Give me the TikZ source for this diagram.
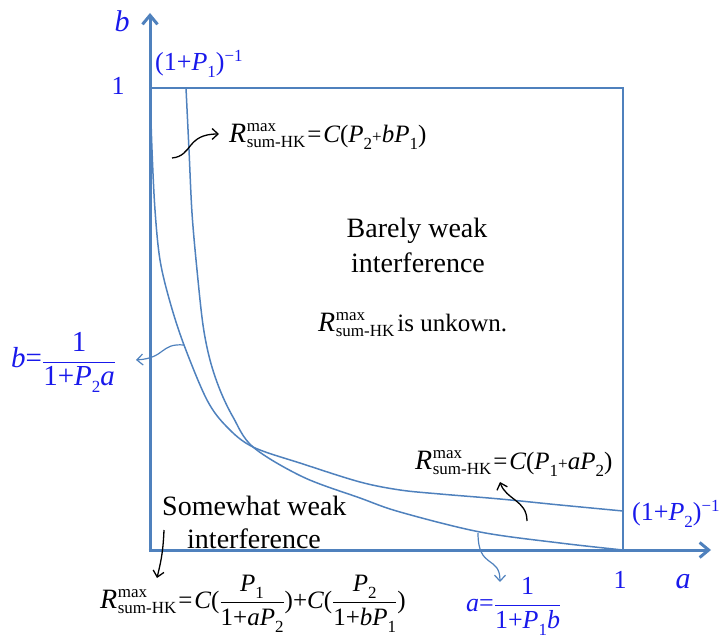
\documentclass[tikz,border=0pt]{standalone}
\usepackage{fontspec}
\setmainfont{Liberation Serif}
\usetikzlibrary{arrows.meta}
\definecolor{axisblue}{RGB}{79,129,189}
\definecolor{labblue}{RGB}{25,25,235}
\newcommand{\fsR}{\fontsize{28}{32}\selectfont}
\newcommand{\fsN}{\fontsize{25}{30}\selectfont}
\newcommand{\fsS}{\fontsize{17}{19}\selectfont}
\newcommand{\fsT}{\fontsize{28}{34}\selectfont}
\newcommand{\itl}[1]{{\itshape #1}}
\newcommand{\sbb}[1]{\raisebox{-7pt}{\fsS\upshape #1}}
\newcommand{\spp}[1]{\raisebox{9pt}{\fsS\upshape #1}}
\newcommand{\Rmx}{{\fsR\itshape R}\kern0.5pt\rlap{\raisebox{11pt}{\fsS max}}\raisebox{-5pt}{\fsS sum-HK}}
\newcommand{\eqs}{\kern2pt=\kern2pt}
\newcommand{\frc}[2]{$\displaystyle\frac{\hbox{#1}}{\hbox{#2}}$}
\tikzset{
  axisline/.style={draw=axisblue, line width=3pt, -{Straight Barb[length=9pt,width=15pt]}},
  boxline/.style={draw=axisblue, line width=1.2pt},
  curveline/.style={draw=axisblue, line width=1.5pt},
  bluearrow/.style={draw=axisblue, line width=1.2pt, -{Straight Barb[length=6pt,width=11pt]}},
  blackarrow/.style={draw=black, line width=1.3pt, -{Straight Barb[length=6pt,width=11pt]}},
  lab/.style={text=labblue, font=\fsN, inner sep=0pt},
  txt/.style={text=black, font=\fsT, inner sep=0pt},
  frm/.style={text=black, font=\fsN, inner sep=0pt}
}
\begin{document}
\begin{tikzpicture}[x=1pt,y=-1pt]
\useasboundingbox (0,0) rectangle (724,639);
\coordinate (O) at (150,550);
\coordinate (Ytip) at (150,13);
\coordinate (Xtip) at (711,550);
\coordinate (TL) at (150,88);
\coordinate (TR) at (623,88);
\coordinate (BR) at (623,550);
% box
\draw[boxline] (TL) -- (TR) -- (BR);
% curves
\draw[curveline] plot[smooth, tension=0.55] coordinates {(150,88) (152,150) (155,210) (160,260) (170,302) (184,345) (207,400) (227,427) (253,447) (303,464) (360,482) (400,490) (440,494) (500,499) (560,505) (623,511)};
\draw[curveline] plot[smooth, tension=0.55] coordinates {(186,88) (189,150) (192,213) (197,270) (203,325) (210,360) (220,390) (233,417) (253,447) (303,477) (360,498) (400,512) (480,532) (560,543) (623,550)};
% axes
\draw[axisline] (O) -- (Ytip);
\draw[axisline] ([xshift=-1.5pt]O) -- (Xtip);
% axis labels
\node[lab, font=\fontsize{30}{34}\selectfont\itshape, anchor=base] (bl) at (122,32) {b};
\node[lab, font=\fontsize{30}{34}\selectfont\itshape, anchor=base] (al) at (683,588) {a};
\node[lab, font=\fontsize{26}{30}\selectfont, anchor=base] (one1) at (118,95) {1};
\node[lab, font=\fontsize{26}{30}\selectfont, anchor=base] (one2) at (620,588) {1};
\node[lab, font=\fontsize{26}{30}\selectfont, anchor=base west] (p1) at (155,71) {(1+\itl{P}\sbb{1})\spp{−1}};
\node[lab, font=\fontsize{26}{30}\selectfont, anchor=base west] (p2) at (632,520) {(1+\itl{P}\sbb{2})\spp{−1}};
% blue fraction labels
\node[lab, font=\fontsize{29}{34}\selectfont, anchor=base west] (bfrac) at (11,368) {\itl{b}=\frc{1}{1+\itl{P}\sbb{2}\itl{a}}};
\node[lab, font=\fontsize{26}{30}\selectfont, anchor=base west] (afrac) at (466,611) {\itl{a}=\frc{1}{1+\itl{P}\sbb{1}\itl{b}}};
% region texts
\node[txt, anchor=base] (bw1) at (417,238) {Barely weak};
\node[txt, anchor=base] (bw2) at (418,273) {interference};
\node[frm, anchor=base west] (unk) at (318,332) {\Rmx\kern3pt is unkown.};
\node[txt, anchor=base west] (sw1) at (162,515) {Somewhat weak};
\node[txt, anchor=base west] (sw2) at (187,548) {interference};
% formulas
\node[frm, anchor=base west] (f1) at (229,143) {\Rmx\eqs\itl{C}(\itl{P}\sbb{2}{\fsS+}\itl{bP}\sbb{1})};
\node[frm, anchor=base west] (f2) at (415,470) {\Rmx\eqs\itl{C}(\itl{P}\sbb{1}{\fsS+}\itl{aP}\sbb{2})};
\node[frm, anchor=base west] (f3) at (100,608) {\Rmx\eqs\itl{C}(\frc{\itl{P}\sbb{1}}{1+\itl{aP}\sbb{2}})+\itl{C}(\frc{\itl{P}\sbb{2}}{1+\itl{bP}\sbb{1}})};
% annotation arrows
\coordinate (a1s) at (172,158);
\coordinate (a1e) at (219,134);
\draw[blackarrow] (a1s) .. controls (193,156) and (186,134) .. (a1e);
\coordinate (a2s) at (527,521);
\coordinate (a2e) at (500,482);
\draw[blackarrow] (a2s) .. controls (527,500) and (506,500) .. (a2e);
\coordinate (a3s) at (164,530);
\coordinate (a3e) at (157,578);
\draw[blackarrow] (a3s) .. controls (163,555) and (160,565) .. (a3e);
\coordinate (b1s) at (184,345);
\coordinate (b1e) at (136,360);
\draw[bluearrow] (b1s) .. controls (160,343) and (166,358) .. (b1e);
\coordinate (c1s) at (478,533);
\coordinate (c1e) at (500,582);
\draw[bluearrow] (c1s) .. controls (478,570) and (500,555) .. (c1e);
\end{tikzpicture}
\end{document}
